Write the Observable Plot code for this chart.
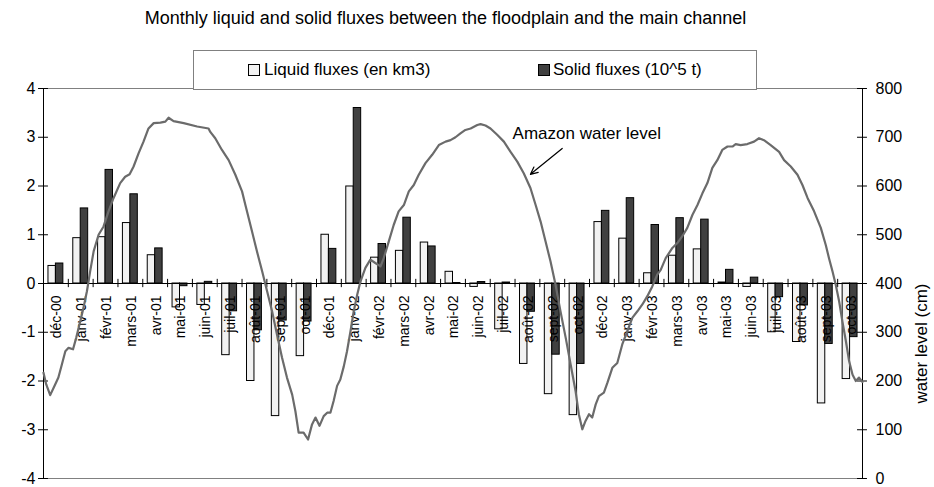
<!DOCTYPE html>
<html><head><meta charset="utf-8">
<script src="https://cdn.jsdelivr.net/npm/d3@7"></script>
<script src="https://cdn.jsdelivr.net/npm/@observablehq/plot@0.6"></script>
<style>
body{margin:0;background:#fff;font-family:"Liberation Sans",Arial,sans-serif;}
#wrap{position:relative;width:934px;height:487px;}
#title{position:absolute;left:0;top:9px;width:891px;text-align:center;font-size:18px;line-height:18px;color:#000;}
#legend{position:absolute;left:193px;top:50px;width:562px;height:38px;border:1px solid #808080;background:#fff;font-size:17px;color:#000;}
.sw{position:absolute;top:13px;width:10px;height:10px;border:1px solid #000;}
.lt{position:absolute;top:10px;line-height:18px;white-space:nowrap;}
</style></head>
<body>
<div id="wrap">
<div id="chart"></div>
<div id="title"></div>
<div id="legend"></div>
</div>
<script>
const months = ["déc-00","janv-01","févr-01","mars-01","avr-01","mai-01","juin-01","juil-01","août-01","sept-01","oct-01","déc-01","janv-02","févr-02","mars-02","avr-02","mai-02","juin-02","juil-02","août-02","sept-02","oct-02","déc-02","janv-03","févr-03","mars-03","avr-03","mai-03","juin-03","juil-03","août-03","sept-03","oct-03"];
const liquid = [0.36,0.93,0.95,1.24,0.58,-0.49,-0.44,-1.47,-2.0,-2.72,-1.49,1.0,1.99,0.53,0.67,0.84,0.24,-0.07,-0.94,-1.65,-2.27,-2.70,1.26,0.92,0.21,0.57,0.70,0.02,-0.07,-1.0,-1.2,-2.46,-1.96];
const solid = [0.41,1.54,2.33,1.83,0.72,-0.055,0.034,-0.57,-0.96,-0.76,-0.78,0.71,3.6,0.81,1.35,0.76,0.01,0.03,0.02,-0.58,-1.46,-1.65,1.49,1.75,1.2,1.34,1.31,0.28,0.12,-0.28,-0.45,-1.24,-1.10];
// Amazon water level (cm), position in month units along the category axis
const wlT = [0.00,0.11,0.27,0.47,0.60,0.74,0.88,1.01,1.19,1.32,1.45,1.61,1.75,1.88,2.02,2.22,2.42,2.62,2.82,3.09,3.29,3.47,3.63,3.83,4.03,4.23,4.44,4.71,4.91,5.04,5.24,5.65,6.19,6.65,6.72,6.92,7.19,7.46,7.73,8.00,8.14,8.40,8.60,8.81,9.01,9.21,9.41,9.61,9.81,10.02,10.15,10.28,10.48,10.66,10.82,10.96,11.12,11.29,11.43,11.56,11.69,11.83,11.96,12.10,12.23,12.37,12.50,12.64,12.77,12.97,13.17,13.37,13.58,13.71,13.91,14.11,14.31,14.52,14.72,14.92,15.12,15.39,15.66,15.93,16.20,16.40,16.60,16.80,17.00,17.21,17.48,17.61,17.81,18.01,18.28,18.55,18.82,19.09,19.35,19.62,19.83,20.03,20.23,20.43,20.63,20.83,21.04,21.24,21.44,21.57,21.71,21.84,21.98,22.11,22.25,22.38,22.58,22.72,22.92,23.12,23.32,23.52,23.73,23.93,24.13,24.33,24.53,24.73,24.87,25.07,25.34,25.54,25.74,25.94,26.15,26.35,26.55,26.75,26.95,27.15,27.35,27.56,27.76,27.89,28.09,28.36,28.63,28.83,29.03,29.30,29.64,29.84,30.11,30.38,30.58,30.79,31.05,31.32,31.52,31.65,31.79,31.92,32.06,32.19,32.33,32.46,32.60,32.73,32.86,33.00];
const wlLevel = [217,193,171,193,207,234,261,268,265,289,316,350,384,425,466,500,517,548,575,606,619,624,640,667,691,718,729,730,732,740,733,729,722,718,711,698,674,653,623,589,560,507,466,425,384,343,295,248,207,172,138,94,94,80,111,125,108,128,135,135,159,190,203,230,261,302,343,377,404,432,449,442,435,452,486,520,548,561,589,602,623,647,664,684,691,694,700,708,715,718,725,727,724,718,705,691,670,650,626,596,561,527,486,445,398,343,289,234,179,132,101,118,132,125,152,169,176,196,227,237,275,302,330,343,357,374,394,418,428,452,473,483,497,514,541,561,585,606,637,653,674,681,681,686,684,686,691,698,694,684,670,653,640,623,602,575,548,514,479,452,425,398,363,322,282,241,213,200,207,198];
const leftTicks = [-4,-3,-2,-1,0,1,2,3,4];
const rightTicks = [0,100,200,300,400,500,600,700,800];
const titleText = "Monthly liquid and solid fluxes between the floodplain and the main channel";
const seriesNames = ["Liquid fluxes (en km3)", "Solid fluxes (10^5 t)"];
const seriesColors = ["#f2f2f2", "#404040"];
const annotText = ["Amazon water level"];
const annotPos = [{x: 18.9, y: 3.075}];
const arrowPos = [{x1: 20.90, y1: 2.77, x2: 19.62, y2: 2.24}];

const n = months.length;
const idx = d3.range(n);
const toLeft = L => L / 100 - 4;   // right axis 0..800 mapped onto left axis -4..4
const bw = 0.3;
const wl = wlT.map((t, i) => ({t, L: wlLevel[i]}));
const font = "Liberation Sans, Arial, sans-serif";

const chart = Plot.plot({
  width: 934, height: 487,
  marginLeft: 43, marginRight: 72, marginTop: 88, marginBottom: 9,
  x: {domain: [0, n], axis: null},
  y: {domain: [-4, 4], axis: null},
  style: {fontFamily: font, background: "#fff", color: "#000", overflow: "visible"},
  marks: [
    Plot.ruleY([4, -4], {stroke: "#808080", strokeWidth: 1}),
    Plot.rectY(idx, {x1: i => i + 0.5 - bw, x2: i => i + 0.5, y1: 0, y2: i => liquid[i], fill: seriesColors[0], stroke: "#000", strokeWidth: 1}),
    Plot.rectY(idx, {x1: i => i + 0.5, x2: i => i + 0.5 + bw, y1: 0, y2: i => solid[i], fill: seriesColors[1], stroke: "#000", strokeWidth: 1}),
    Plot.ruleY([0], {stroke: "#000", strokeWidth: 1}),
    Plot.ruleX(d3.range(n + 1), {x: d => d, y1: -0.085, y2: 0.085, stroke: "#000"}),
    Plot.ruleX([0, n], {x: d => d, y1: -4, y2: 4, stroke: "#000"}),
    Plot.ruleY(leftTicks, {y: d => d, x1: -0.2, x2: 0.2, stroke: "#000"}),
    Plot.ruleY(rightTicks, {y: toLeft, x1: n - 0.2, x2: n + 0.2, stroke: "#000"}),
    Plot.text(leftTicks, {y: d => d, frameAnchor: "left", textAnchor: "end", dx: -8, text: d => String(d), fontSize: 16, fill: "#000"}),
    Plot.text(rightTicks, {y: toLeft, frameAnchor: "right", textAnchor: "start", dx: 13, text: d => String(d), fontSize: 16, fill: "#000"}),
    Plot.text(["water level (cm)"], {frameAnchor: "right", dx: 59, rotate: -90, fontSize: 17, fill: "#000"}),
    Plot.text(idx, {x: i => i + 0.5, y: 0, text: i => months[i], rotate: -90, textAnchor: "end", dy: 12, dx: 1, fontSize: 14, fill: "#000"}),
    Plot.line(wl, {x: "t", y: d => toLeft(d.L), stroke: "#6b6b6b", strokeWidth: 2.2}),
    Plot.text(annotPos, {x: "x", y: "y", text: (d, i) => annotText[i], textAnchor: "start", fontSize: 17, fill: "#000"}),
    Plot.arrow(arrowPos, {x1: "x1", y1: "y1", x2: "x2", y2: "y2", stroke: "#000", strokeWidth: 1.2, headLength: 10, headAngle: 50})
  ]
});
document.getElementById("chart").appendChild(chart);
document.getElementById("title").textContent = titleText;
const lg = document.getElementById("legend");
const swX = [54, 344], txX = [70, 359];
seriesNames.forEach((s, i) => {
  const sw = document.createElement("div");
  sw.className = "sw"; sw.style.left = swX[i] + "px"; sw.style.background = seriesColors[i];
  const t = document.createElement("div");
  t.className = "lt"; t.style.left = txX[i] + "px"; t.textContent = s;
  lg.appendChild(sw); lg.appendChild(t);
});
</script>
</body></html>
